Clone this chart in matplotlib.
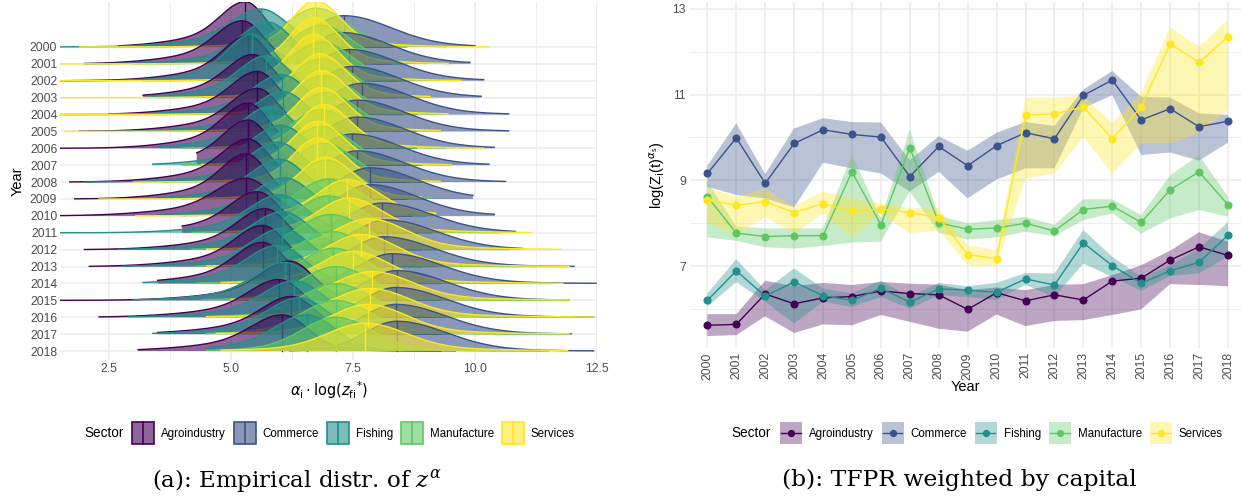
import numpy as np
import matplotlib
matplotlib.use('Agg')
import matplotlib.pyplot as plt
from matplotlib.patches import Patch, Rectangle
from matplotlib.lines import Line2D
from matplotlib.legend_handler import HandlerBase

plt.rcParams['font.family'] = ['Liberation Sans', 'DejaVu Sans']

years = list(range(2000, 2019))
sectors = ['Agroindustry', 'Commerce', 'Fishing', 'Manufacture', 'Services']
colors = ['#440154', '#3B528B', '#21908C', '#5DC863', '#FDE725']

# ---------------- Panel (a): empirical distributions (median, spread, range) ----------------
agro_med = [5.29, 5.23, 5.35, 5.45, 5.54, 5.54, 5.35, 5.35, 5.35, 5.31, 5.31, 5.54, 5.70, 5.65, 5.65, 6.20, 5.98, 6.24, 6.05]
comm_med = [7.31, 7.28, 7.42, 7.49, 7.68, 7.59, 7.59, 7.49, 7.59, 7.85, 7.85, 8.10, 8.19, 8.14, 8.30, 8.41, 8.38, 8.38, 8.40]
fish_med = [5.61, 5.75, 5.43, 5.72, 6.04, 6.06, 5.80, 6.03, 5.96, 6.00, 6.10, 6.00, 6.06, 6.05, 5.95, 6.10, 6.30, 6.40, 6.55]
manu_med = [6.75, 6.85, 6.85, 6.85, 6.90, 6.95, 6.85, 6.85, 6.90, 6.95, 7.00, 7.00, 7.05, 7.05, 7.10, 7.15, 7.15, 7.15, 7.15]
serv_med = [6.73, 6.69, 6.69, 6.81, 6.85, 6.85, 6.90, 6.77, 6.77, 6.93, 7.38, 7.42, 7.83, 7.66, 7.50, 7.89, 7.85, 7.80, 7.75]

agro_spread = [1.0, 1.05, 1.0, 1.05, 1.05, 1.05, 1.0, 1.0, 1.05, 1.0, 1.2, 1.1, 1.1, 1.1, 1.1, 1.15, 1.2, 1.2, 1.25]
comm_spread = [1.0, 1.0, 1.0, 1.0, 1.0, 1.0, 1.0, 1.0, 1.0, 1.0, 1.0, 1.05, 1.05, 1.05, 1.05, 1.05, 1.05, 1.05, 1.05]
fish_spread = [1.1, 1.0, 0.9, 1.0, 1.05, 1.05, 1.0, 1.05, 1.05, 1.05, 1.1, 1.1, 1.1, 1.1, 1.1, 1.1, 1.15, 1.15, 1.15]
manu_spread = [1.0, 1.0, 1.0, 1.0, 1.0, 1.0, 1.0, 1.0, 1.0, 1.0, 1.05, 1.05, 1.1, 1.1, 1.1, 1.15, 1.15, 1.15, 1.15]
serv_spread = [0.9, 0.9, 0.9, 0.95, 0.95, 0.95, 0.95, 0.95, 0.95, 1.0, 1.15, 1.2, 1.35, 1.3, 1.3, 1.45, 1.45, 1.4, 1.5]

agro_lo = [2.7, 2.0, 1.5, 3.2, 2.5, 1.9, 1.5, 4.3, 1.7, 1.8, 1.5, 4.0, 2.0, 2.1, 3.5, 1.5, 2.3, 3.5, 3.1]
agro_hi = [8.3, 8.3, 8.4, 8.4, 8.5, 8.5, 8.5, 8.6, 8.6, 8.6, 8.7, 8.8, 8.9, 8.9, 9.0, 9.2, 9.2, 9.3, 9.3]
comm_lo = [5.2, 5.3, 5.3, 5.4, 5.5, 5.5, 5.5, 5.5, 5.6, 5.7, 5.7, 5.9, 6.0, 6.0, 6.1, 6.2, 6.2, 6.2, 6.2]
comm_hi = [10.0, 9.9, 10.18, 10.13, 10.69, 10.69, 10.4, 10.29, 10.63, 9.96, 10.4, 10.83, 10.98, 12.03, 12.48, 11.93, 12.43, 11.97, 12.43]
fish_lo = [1.5, 2.0, 1.6, 3.3, 1.5, 2.3, 3.5, 3.4, 2.0, 3.5, 3.5, 1.5, 2.7, 2.8, 3.2, 3.0, 2.9, 3.4, 4.5]
fish_hi = [8.6, 8.6, 8.6, 8.7, 8.8, 8.8, 8.8, 8.9, 8.9, 9.0, 9.0, 9.1, 9.2, 9.2, 9.3, 9.3, 9.4, 9.5, 9.6]
manu_lo = [1.9, 3.0, 3.2, 3.5, 1.6, 3.5, 4.0, 4.0, 3.6, 4.0, 4.0, 4.2, 4.2, 4.3, 4.3, 4.4, 4.5, 4.5, 4.5]
manu_hi = [9.4, 9.5, 9.6, 9.1, 9.3, 9.3, 9.4, 9.5, 9.3, 9.1, 9.2, 10.5, 10.7, 11.9, 11.6, 11.9, 12.0, 11.9, 11.5]
serv_lo = [1.9, 1.5, 1.5, 1.5, 1.5, 1.6, 4.6, 4.4, 3.0, 2.3, 3.05, 4.9, 4.5, 4.5, 4.8, 5.0, 4.5, 4.7, 4.8]
serv_hi = [10.29, 9.45, 9.70, 9.09, 9.45, 9.29, 10.18, 9.51, 9.29, 8.90, 9.20, 11.14, 11.77, 11.93, 11.80, 11.93, 12.43, 11.93, 11.90]

# shape of each sector's distribution: core sd (left/right), tail weight (left/right), tail sd factor
shape_sl = [0.48, 0.62, 0.52, 0.58, 0.50]
shape_sr = [0.42, 0.95, 0.50, 0.62, 0.55]
shape_wl = [0.32, 0.05, 0.30, 0.15, 0.12]
shape_wr = [0.05, 0.08, 0.05, 0.08, 0.12]
shape_tf = [2.4, 1.8, 2.2, 2.0, 2.5]

# ---------------- Panel (b): TFPR weighted by capital (mean, lower, upper) ----------------
agro_b = [5.62, 5.64, 6.35, 6.12, 6.26, 6.29, 6.42, 6.36, 6.33, 5.99, 6.38, 6.19, 6.33, 6.21, 6.65, 6.72, 7.14, 7.45, 7.25]
agro_b_lo = [5.37, 5.39, 5.83, 5.44, 5.64, 5.62, 5.86, 5.70, 5.54, 5.47, 5.87, 5.60, 5.72, 5.74, 5.86, 5.99, 6.58, 6.56, 6.53]
agro_b_hi = [5.88, 5.88, 6.66, 6.53, 6.61, 6.56, 6.63, 6.59, 6.57, 6.44, 6.50, 6.44, 6.56, 6.58, 6.79, 7.02, 7.36, 7.79, 7.57]

comm_b = [9.16, 9.99, 8.93, 9.86, 10.18, 10.07, 10.01, 9.09, 9.79, 9.34, 9.81, 10.11, 9.97, 10.98, 11.34, 10.41, 10.67, 10.25, 10.38]
comm_b_lo = [8.85, 8.66, 8.58, 8.37, 9.41, 9.28, 9.16, 8.74, 9.20, 8.58, 9.02, 9.28, 9.28, 10.68, 10.99, 9.59, 9.65, 9.46, 9.88]
comm_b_hi = [9.34, 10.33, 9.15, 10.21, 10.45, 10.36, 10.35, 9.47, 10.03, 9.69, 10.11, 10.36, 10.27, 11.12, 11.55, 10.95, 10.93, 10.56, 10.53]

fish_b = [6.20, 6.89, 6.30, 6.63, 6.31, 6.20, 6.48, 6.16, 6.47, 6.44, 6.39, 6.70, 6.56, 7.54, 7.01, 6.60, 6.89, 7.09, 7.72]
fish_b_lo = [6.05, 6.63, 6.17, 5.66, 6.17, 6.05, 6.28, 6.01, 6.32, 6.28, 6.21, 6.56, 6.28, 7.06, 6.75, 6.42, 6.77, 6.83, 7.22]
fish_b_hi = [6.36, 7.16, 6.44, 6.95, 6.48, 6.36, 6.66, 6.28, 6.61, 6.53, 6.61, 6.84, 6.83, 7.84, 7.22, 6.75, 7.02, 7.41, 8.03]

manu_b = [8.62, 7.77, 7.69, 7.71, 7.71, 9.20, 7.96, 9.76, 8.01, 7.86, 7.89, 8.00, 7.82, 8.32, 8.40, 8.02, 8.78, 9.20, 8.43]
manu_b_lo = [7.67, 7.59, 7.44, 7.41, 7.47, 7.55, 7.57, 8.74, 7.78, 7.62, 7.67, 7.80, 7.70, 8.07, 8.23, 7.76, 8.11, 8.31, 8.15]
manu_b_hi = [8.97, 7.92, 7.88, 7.88, 7.88, 9.61, 8.11, 10.18, 8.17, 8.00, 8.07, 8.15, 7.96, 8.56, 8.56, 8.19, 9.12, 9.59, 8.62]

serv_b = [8.54, 8.42, 8.50, 8.25, 8.46, 8.28, 8.33, 8.25, 8.13, 7.27, 7.17, 10.52, 10.55, 10.71, 9.97, 10.71, 12.18, 11.75, 12.35]
serv_b_lo = [8.01, 7.72, 8.15, 7.76, 8.23, 7.68, 8.23, 7.76, 7.84, 7.02, 7.02, 9.05, 9.16, 10.02, 9.16, 9.86, 9.86, 10.10, 10.64]
serv_b_hi = [8.83, 8.62, 8.81, 8.39, 8.74, 8.58, 8.46, 8.35, 8.35, 7.49, 7.37, 10.93, 10.93, 10.98, 10.33, 11.05, 12.57, 12.12, 12.74]

meds = [agro_med, comm_med, fish_med, manu_med, serv_med]
spreads = [agro_spread, comm_spread, fish_spread, manu_spread, serv_spread]
los = [agro_lo, comm_lo, fish_lo, manu_lo, serv_lo]
his = [agro_hi, comm_hi, fish_hi, manu_hi, serv_hi]
b_mean = [agro_b, comm_b, fish_b, manu_b, serv_b]
b_lo = [agro_b_lo, comm_b_lo, fish_b_lo, manu_b_lo, serv_b_lo]
b_hi = [agro_b_hi, comm_b_hi, fish_b_hi, manu_b_hi, serv_b_hi]

W, H = 1241, 497
fig = plt.figure(figsize=(W / 100, H / 100), dpi=100)

def px_axes(l, t, r, b):
    return fig.add_axes([l / W, 1 - b / H, (r - l) / W, (b - t) / H])

GRID = '#EBEBEB'
TICKC = '#4D4D4D'

# ---------------- Left panel ----------------
axL = px_axes(60, 2, 597, 360)
n = len(years)

def shape(x, m, k, s):
    d = x - m
    sl = shape_sl[k] * s
    sr = shape_sr[k] * s
    tf = shape_tf[k]
    left = d < 0
    sd = np.where(left, sl, sr)
    w = np.where(left, shape_wl[k], shape_wr[k])
    return (1 - w) * np.exp(-d ** 2 / (2 * sd ** 2)) + w * np.exp(-d ** 2 / (2 * (sd * tf) ** 2))

dens = {}
xs_full = np.linspace(-10, 25, 7001)
dx = xs_full[1] - xs_full[0]
maxd = 0
for k in range(5):
    for i in range(n):
        m = meds[k][i]
        s = spreads[k][i]
        Z = shape(xs_full, m, k, s).sum() * dx
        x = np.linspace(los[k][i], his[k][i], 500)
        y = shape(x, m, k, s) / Z
        dens[(k, i)] = (x, y)
        maxd = max(maxd, y.max())

SCALE = 2.75 / maxd
for i in range(n):
    base = (n - 1) - i
    for k in range(5):
        x, y = dens[(k, i)]
        h = y * SCALE
        z = 2 + i * 10 + k
        axL.fill_between(x, base, base + h, facecolor=colors[k], alpha=0.6, lw=0, zorder=z)
        axL.plot(x, base + h, color=colors[k], lw=1.0, zorder=z + 0.5)
        m = meds[k][i]
        hm = np.interp(m, x, h)
        axL.plot([m, m], [base, base + hm], color=colors[k], lw=1.0, zorder=z + 0.5)

axL.set_xlim(1.5, 12.5)
axL.set_ylim(-0.53, (n - 1) + 2.66)
axL.set_xticks([2.5, 5.0, 7.5, 10.0, 12.5])
axL.set_xticklabels(['2.5', '5.0', '7.5', '10.0', '12.5'])
axL.set_xticks([3.75, 6.25, 8.75, 11.25], minor=True)
axL.set_yticks([(n - 1) - i for i in range(n)])
axL.set_yticklabels([str(y) for y in years])
axL.grid(True, which='major', color=GRID, lw=1.1, zorder=0)
axL.grid(True, which='minor', axis='x', color=GRID, lw=0.6, zorder=0)
axL.set_axisbelow(True)
for sp in axL.spines.values():
    sp.set_visible(False)
axL.tick_params(axis='both', which='both', length=0, labelsize=8.8, labelcolor=TICKC, pad=2)
axL.set_xlabel(r'$\alpha_{\mathrm{i}}\cdot\mathrm{log}(z_{\mathrm{fi}}{}^{*})$', fontsize=10.5, labelpad=3)
axL.set_ylabel('Year', fontsize=10.5, labelpad=4)

# ---------------- Right panel ----------------
axR = px_axes(690, 2, 1241, 348)
xi = np.arange(n)
for k in range(5):
    axR.fill_between(xi, b_lo[k], b_hi[k], facecolor=colors[k], alpha=0.35, lw=0, zorder=2 + k)
for k in range(5):
    axR.plot(xi, b_mean[k], color=colors[k], lw=1.0, marker='o', ms=4.8, zorder=10 + k)

axR.set_xlim(-0.6, 18.45)
axR.set_ylim(5.09, 13.16)
axR.set_xticks(xi)
axR.set_xticklabels([str(y) for y in years], rotation=90)
axR.set_yticks([7, 9, 11, 13])
axR.set_yticks([6, 8, 10, 12], minor=True)
axR.grid(True, which='major', color=GRID, lw=1.1, zorder=0)
axR.grid(True, which='minor', axis='y', color=GRID, lw=0.6, zorder=0)
axR.set_axisbelow(True)
for sp in axR.spines.values():
    sp.set_visible(False)
axR.tick_params(axis='both', which='both', length=0, labelsize=8.8, labelcolor=TICKC, pad=3)
axR.set_xlabel('Year', fontsize=10.5, labelpad=0)
axR.set_ylabel(r'log(Z$_{\mathrm{i}}$(t)$^{\alpha_{\mathrm{s}}}$)', fontsize=10.5, labelpad=4)

# ---------------- Legends ----------------
class RidgeKey(HandlerBase):
    def create_artists(self, legend, orig_handle, xdescent, ydescent, width, height, fontsize, trans):
        c = orig_handle.get_edgecolor()
        r = Rectangle((-xdescent, -ydescent), width, height, facecolor=(c[0], c[1], c[2], 0.6),
                      edgecolor=c, lw=1.2, transform=trans)
        ln = Line2D([-xdescent + width / 2] * 2, [-ydescent, -ydescent + height], color=c, lw=1.2,
                    transform=trans)
        return [r, ln]

class RibbonKey(HandlerBase):
    def create_artists(self, legend, orig_handle, xdescent, ydescent, width, height, fontsize, trans):
        c = orig_handle.get_edgecolor()
        r = Rectangle((-xdescent, -ydescent), width, height, facecolor=(c[0], c[1], c[2], 0.35),
                      edgecolor='none', transform=trans)
        yc = -ydescent + height / 2
        ln = Line2D([-xdescent + 1, -xdescent + width - 1], [yc, yc], color=c, lw=1.0, transform=trans)
        mk = Line2D([-xdescent + width / 2], [yc], color=c, marker='o', ms=4.2, lw=0, transform=trans)
        return [r, ln, mk]

def make_legend(handler, x_key, y_center):
    handles = [Patch(facecolor='none', edgecolor=c) for c in colors]
    leg = fig.legend(handles, sectors, loc='center left',
                     bbox_to_anchor=(x_key / W, 1 - y_center / H), ncol=5, frameon=False,
                     fontsize=8.3, handlelength=1.9, handleheight=2.5, handletextpad=0.6,
                     columnspacing=0.7, borderpad=0, borderaxespad=0,
                     handler_map={Patch: handler})
    return leg

make_legend(RidgeKey(), 132, 433)
fig.text(84 / W, 1 - 433 / H, 'Sector', fontsize=9.8, va='center', ha='left')
make_legend(RibbonKey(), 780, 433)
fig.text(731 / W, 1 - 433 / H, 'Sector', fontsize=9.8, va='center', ha='left')

# ---------------- Captions ----------------
fig.text(297 / W, 1 - 480 / H, r'(a): Empirical distr. of $z^{\alpha}$', fontsize=16.5,
         family='DejaVu Serif', math_fontfamily='dejavuserif', ha='center', va='center')
fig.text(959 / W, 1 - 480 / H, '(b): TFPR weighted by capital', fontsize=16.9,
         family='DejaVu Serif', ha='center', va='center')

fig.savefig('out.png', dpi=100)
